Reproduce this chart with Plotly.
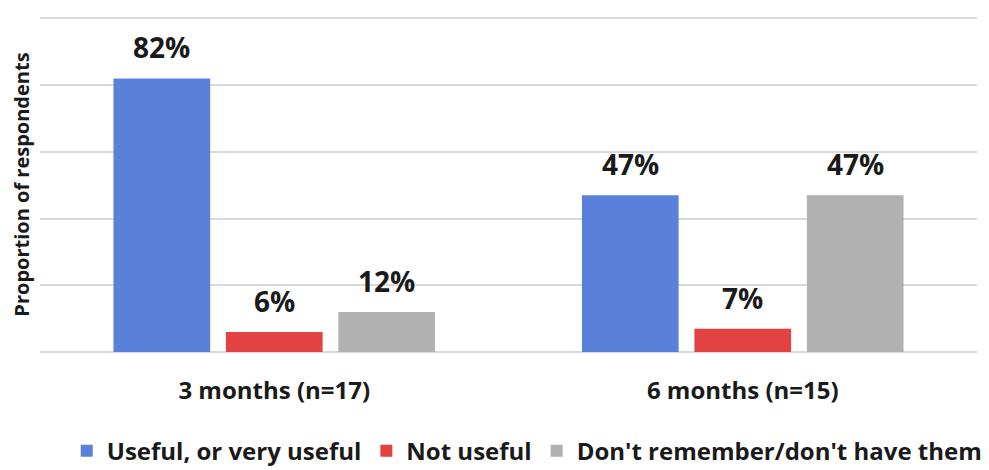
import plotly.graph_objects as go

# Survey results: perceived usefulness by follow-up point
categories = ["3 months (n=17)", "6 months (n=15)"]
series_names = ["Useful, or very useful", "Not useful", "Don't remember/don't have them"]
useful = [82, 47]
not_useful = [6, 7]
dont_remember = [12, 47]
series_values = [useful, not_useful, dont_remember]
colors = ["#5A81D9", "#E34242", "#B1B1B1"]

FONT = "Open Sans"
BARGAP = 0.28
GROUPGAP = 0.14

fig = go.Figure()
for name, vals, col in zip(series_names, series_values, colors):
    fig.add_trace(go.Bar(
        name=name,
        x=categories,
        y=vals,
        marker=dict(color=col, line=dict(width=0)),
        hoverinfo="skip",
    ))

# value labels above each bar, placed at the grouped-bar slot centres
n = len(series_values)
slot = (1 - BARGAP) / n
for i, vals in enumerate(series_values):
    for j, v in enumerate(vals):
        fig.add_annotation(
            x=j + (i - (n - 1) / 2) * slot,
            y=v,
            xref="x", yref="y",
            text=f"<b>{v}%</b>",
            showarrow=False,
            yanchor="bottom",
            yshift=10,
            font=dict(family=FONT, size=28, color="#1a1a1a"),
        )

fig.update_layout(
    width=989, height=470,
    margin=dict(l=40, r=12, t=17, b=118, autoexpand=False),
    paper_bgcolor="white",
    plot_bgcolor="white",
    barmode="group",
    bargap=BARGAP,
    bargroupgap=GROUPGAP,
    font=dict(family=FONT, color="#1a1a1a"),
    showlegend=True,
    legend=dict(
        orientation="h",
        x=0.52, xanchor="center",
        y=-0.296, yanchor="middle",
        font=dict(family=FONT, size=24, weight="bold"),
        itemwidth=30,
        traceorder="normal",
        tracegroupgap=0,
    ),
    xaxis=dict(
        type="category",
        range=[-0.5, 1.5],
        showline=False,
        ticks="",
        tickfont=dict(family=FONT, size=24, weight="bold"),
        ticklabelstandoff=22,
        automargin=False,
    ),
    yaxis=dict(
        range=[0, 100.4],
        tickvals=[0, 20, 40, 60, 80, 100],
        showticklabels=False,
        showgrid=True,
        gridcolor="#D9D9D9",
        gridwidth=1.5,
        zeroline=True,
        zerolinecolor="#D9D9D9",
        zerolinewidth=1.5,
        automargin=False,
        title=dict(
            text="<b>Proportion of respondents</b>",
            font=dict(family=FONT, size=20),
            standoff=4,
        ),
    ),
)

fig.write_html("out.html")
